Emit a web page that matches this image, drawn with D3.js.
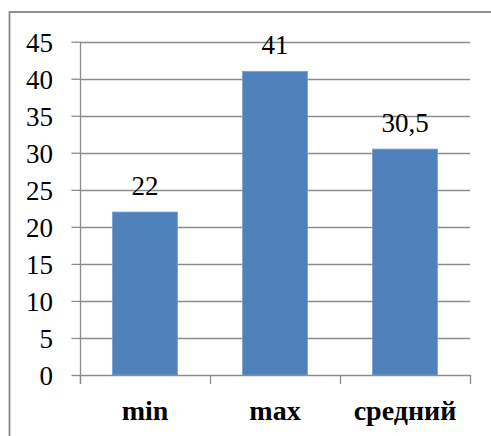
<!DOCTYPE html>
<html>
<head>
<meta charset="utf-8">
<script src="https://cdn.jsdelivr.net/npm/d3@7"></script>
</head>
<body style="margin:0">
<svg id="chart" width="491" height="436"></svg>
<script>
// Categories and their values
const categories = ["min", "max", "средний"];
const values = [22, 41, 30.5];
const valueLabels = ["22", "41", "30,5"];
const yTicks = [0, 5, 10, 15, 20, 25, 30, 35, 40, 45];

const svg = d3.select("#chart");
const plot = { left: 80, right: 470, top: 41.7, bottom: 375 };
const gridColor = "#8c8c8c";

// Chart area frame (extends past the right/bottom edges)
svg.append("rect")
  .attr("x", 9.5).attr("y", 12)
  .attr("width", 520).attr("height", 460)
  .attr("fill", "none")
  .attr("stroke", "#878787")
  .attr("stroke-width", 1.8);

const x = d3.scaleBand()
  .domain(categories)
  .range([plot.left, plot.right])
  .paddingInner(0.5)
  .paddingOuter(0.25);

const y = d3.scaleLinear()
  .domain([0, 45])
  .range([plot.bottom, plot.top]);

// Horizontal gridlines
svg.append("g")
  .selectAll("line")
  .data(yTicks.filter(d => d > 0))
  .join("line")
  .attr("x1", plot.left).attr("x2", plot.right)
  .attr("y1", d => Math.round(y(d)) + 0.5)
  .attr("y2", d => Math.round(y(d)) + 0.5)
  .attr("stroke", gridColor)
  .attr("stroke-width", 1.3);

// Y axis: tick marks from d3.axisLeft, labels placed from the same scale
const yg = svg.append("g")
  .attr("transform", `translate(${plot.left + 0.5},0)`)
  .call(d3.axisLeft(y).tickValues(yTicks).tickSize(9).tickFormat(""));
yg.select(".domain").attr("stroke", gridColor).attr("stroke-width", 1.3)
  .attr("d", `M0,${y(45)}V${plot.bottom + 9}`);
yg.selectAll(".tick line").attr("stroke", gridColor).attr("stroke-width", 1.3);

svg.selectAll("text.ylab")
  .data(yTicks)
  .join("text")
  .attr("class", "ylab")
  .attr("x", 53)
  .attr("y", d => y(d) + 10)
  .attr("text-anchor", "end")
  .attr("font-family", "Tinos")
  .attr("font-size", 27)
  .text(d => d);

// Bars
const rows = categories.map((c, i) => ({ c, v: values[i], label: valueLabels[i] }));
svg.append("g")
  .selectAll("rect")
  .data(rows)
  .join("rect")
  .attr("x", d => x(d.c))
  .attr("y", d => y(d.v))
  .attr("width", x.bandwidth())
  .attr("height", d => y(0) - y(d.v))
  .attr("fill", "#4f81bd")
  .attr("stroke", "#7a9fcf")
  .attr("stroke-width", 0.8);

// X axis with ticks at category boundaries
const xg = svg.append("g");
xg.append("line")
  .attr("x1", plot.left).attr("x2", plot.right)
  .attr("y1", plot.bottom + 0.5).attr("y2", plot.bottom + 0.5)
  .attr("stroke", gridColor).attr("stroke-width", 1.3);
xg.selectAll("line.tk")
  .data(d3.range(categories.length + 1).map(i => plot.left + i * x.step()))
  .join("line")
  .attr("class", "tk")
  .attr("x1", d => Math.round(d) + 0.5).attr("x2", d => Math.round(d) + 0.5)
  .attr("y1", plot.bottom).attr("y2", plot.bottom + 9)
  .attr("stroke", gridColor).attr("stroke-width", 1.3);

svg.selectAll("text.xlab")
  .data(categories)
  .join("text")
  .attr("class", "xlab")
  .attr("x", d => x(d) + x.bandwidth() / 2)
  .attr("y", 420)
  .attr("text-anchor", "middle")
  .attr("font-family", "Tinos")
  .attr("font-weight", "bold")
  .attr("font-size", 28)
  .text(d => d);

// Value labels above bars
svg.selectAll("text.vlab")
  .data(rows)
  .join("text")
  .attr("class", "vlab")
  .attr("x", d => x(d.c) + x.bandwidth() / 2)
  .attr("y", d => y(d.v) - 17)
  .attr("text-anchor", "middle")
  .attr("font-family", "Tinos")
  .attr("font-size", 27)
  .text(d => d.label);
</script>
</body>
</html>
